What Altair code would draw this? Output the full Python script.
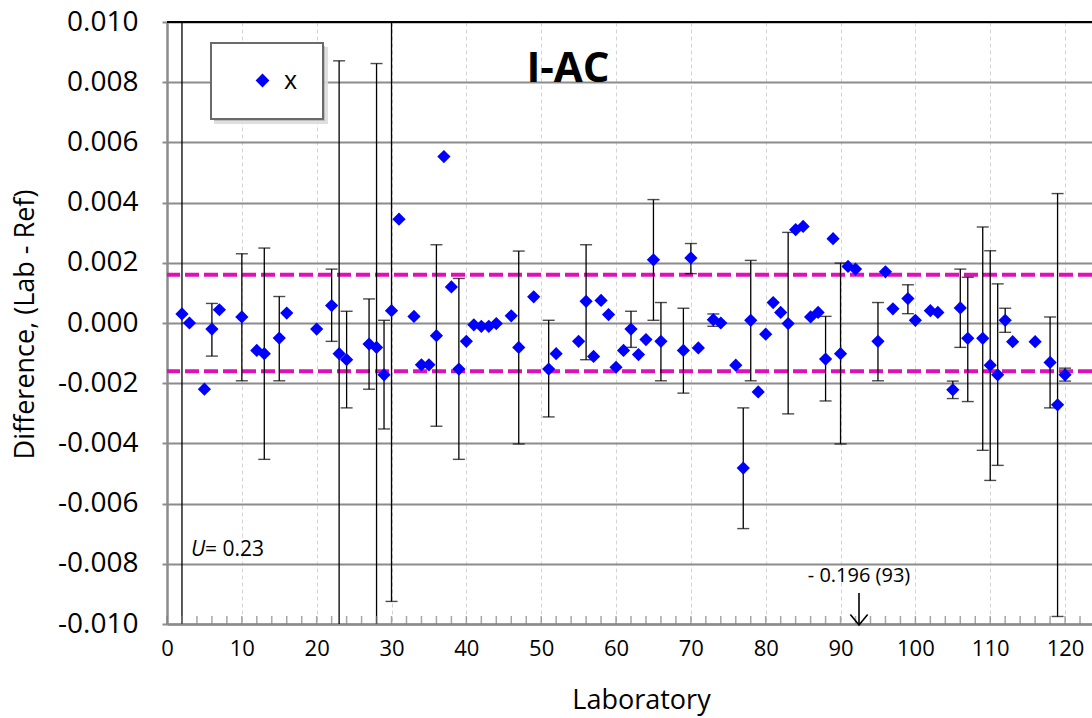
import altair as alt
import pandas as pd

# ---- data ----
labs = [2, 3, 5, 6, 7, 10, 12, 13, 15, 16,
        20, 22, 23, 24, 27, 28, 29, 30, 31, 33,
        34, 35, 36, 37, 38, 39, 40, 41, 42, 43,
        44, 46, 47, 49, 51, 52, 55, 56, 57, 58,
        59, 60, 61, 62, 63, 64, 65, 66, 69, 70,
        71, 73, 74, 76, 77, 78, 79, 80, 81, 82,
        83, 84, 85, 86, 87, 88, 89, 90, 91, 92,
        95, 96, 97, 99, 100, 102, 103, 105, 106, 107,
        109, 110, 111, 112, 113, 116, 118, 119, 120]

diffs = [0.00030, 0.00000, -0.00220, -0.00020, 0.00044, 0.00020, -0.00091, -0.00102, -0.00050, 0.00033,
         -0.00020, 0.00058, -0.00102, -0.00122, -0.00070, -0.00081, -0.00172, 0.00041, 0.00345, 0.00022,
         -0.00139, -0.00139, -0.00042, 0.00553, 0.00120, -0.00153, -0.00061, -0.00006, -0.00011, -0.00011,
         -0.00002, 0.00024, -0.00081, 0.00087, -0.00153, -0.00102, -0.00061, 0.00072, -0.00111, 0.00075,
         0.00028, -0.00147, -0.00091, -0.00020, -0.00105, -0.00055, 0.00210, -0.00061, -0.00091, 0.00216,
         -0.00083, 0.00011, 0.00000, -0.00140, -0.00482, 0.00009, -0.00229, -0.00037, 0.00068, 0.00035,
         -0.00002, 0.00310, 0.00321, 0.00020, 0.00035, -0.00120, 0.00280, -0.00102, 0.00188, 0.00179,
         -0.00061, 0.00170, 0.00047, 0.00081, 0.00009, 0.00041, 0.00035, -0.00222, 0.00050, -0.00051,
         -0.00051, -0.00140, -0.00172, 0.00009, -0.00062, -0.00062, -0.00131, -0.00272, -0.00172]

err_labs = [2, 6, 10, 13, 15, 22, 23, 24, 27, 28,
            29, 30, 36, 39, 47, 51, 56, 62, 65, 66,
            69, 70, 73, 77, 78, 83, 88, 90, 95, 99,
            105, 106, 107, 109, 110, 111, 112, 118, 119, 120]
err_hi = [0.0120, 0.00065, 0.00230, 0.00249, 0.00088, 0.00179, 0.00871, 0.00039, 0.00080, 0.00862,
          0.00009, 0.0120, 0.00260, 0.00148, 0.00239, 0.00009, 0.00260, 0.00039, 0.00410, 0.00068,
          0.00049, 0.00264, 0.00030, -0.00282, 0.00208, 0.00301, 0.00022, 0.00199, 0.00068, 0.00127,
          -0.00193, 0.00179, 0.00152, 0.00319, 0.00240, 0.00130, 0.00049, 0.00020, 0.00430, -0.00150]
err_lo = [-0.0120, -0.00110, -0.00192, -0.00453, -0.00192, -0.00061, -0.0120, -0.00282, -0.00220, -0.0120,
          -0.00352, -0.00925, -0.00343, -0.00453, -0.00402, -0.00312, -0.00122, -0.00081, 0.00009, -0.00192,
          -0.00233, 0.00164, -0.00011, -0.00683, -0.00192, -0.00302, -0.00259, -0.00402, -0.00192, 0.00031,
          -0.00251, -0.00081, -0.00261, -0.00423, -0.00523, -0.00473, -0.00031, -0.00282, -0.00975, -0.00193]

ref_limits = [0.0016, -0.0016]
x_ticks = [0, 10, 20, 30, 40, 50, 60, 70, 80, 90, 100, 110, 120]
x_minor = list(range(0, 124, 2))
y_ticks = [-0.010, -0.008, -0.006, -0.004, -0.002, 0.0, 0.002, 0.004, 0.006, 0.008, 0.010]
series_name = ["x"]
u_text = ["= 0.23"]
outlier_text = ["- 0.196 (93)"]
title_text = ["I-AC"]

# ---- frames ----
pts = pd.DataFrame({"lab": labs, "diff": diffs, "series": series_name[0]})
err = pd.DataFrame({"lab": err_labs, "hi": err_hi, "lo": err_lo})
caps = pd.concat([
    pd.DataFrame({"lab": err_labs, "v": err_hi}),
    pd.DataFrame({"lab": err_labs, "v": err_lo}),
])
caps = caps[caps["v"].abs() <= 0.01001]
refs = pd.DataFrame({"v": ref_limits})
minor = pd.DataFrame({"t": x_minor})
one = pd.DataFrame({"a": [0]})

W, H = 925, 602
FONT = "Open Sans"
GRAY = "#8c8c8c"

xscale = alt.Scale(domain=[0, 123.6], nice=False, zero=False)
yscale = alt.Scale(domain=[-0.010, 0.010], nice=False, zero=False)

xa = alt.Axis(values=x_ticks, format="d", title="Laboratory",
              labelFont=FONT, labelFontSize=22, labelColor="black", labelPadding=14,
              labelFlush=False, tickSize=0,
              domainColor=GRAY, domainWidth=2.5,
              grid=True, gridColor="#d4d4d4", gridDash=[4, 3], gridWidth=1,
              titleFont=FONT, titleFontSize=27, titleFontWeight="normal", titleColor="black",
              titleX=474, titleY=84, titleBaseline="alphabetic", titleAlign="center")
ya = alt.Axis(values=y_ticks,
              labelExpr="(datum.value < -1e-9 ? '-' : '') + format(abs(datum.value), '.3f')",
              labelFont=FONT, labelFontSize=28, labelColor="black", labelPadding=24,
              labelFlush=False, tickSize=5, tickColor=GRAY, tickWidth=2,
              domainColor=GRAY, domainWidth=2.5,
              grid=True, gridColor=GRAY, gridWidth=2,
              title="Difference, (Lab - Ref)",
              titleFont=FONT, titleFontSize=27, titleFontWeight="normal", titleColor="black",
              titleX=-142, titleY=302, titleAngle=-90, titleAlign="center", titleBaseline="middle")

X = lambda f: alt.X(f, scale=xscale, axis=xa)
Y = lambda f: alt.Y(f, scale=yscale, axis=ya)

shadow1 = alt.Chart(one).mark_rect(color="#dcdcdc", opacity=0.9).encode(
    x=alt.value(47), x2=alt.value(161), y=alt.value(25), y2=alt.value(102))
shadow2 = alt.Chart(one).mark_rect(color="#b8b8b8", opacity=0.9).encode(
    x=alt.value(47), x2=alt.value(158), y=alt.value(24), y2=alt.value(99))

refl = alt.Chart(refs).mark_rule(color="#E010B8", strokeWidth=4, strokeDash=[14, 5]).encode(
    y=Y("v:Q"))

whisk = alt.Chart(err).mark_rule(color="black", strokeWidth=1.3, clip=True).encode(
    x=X("lab:Q"), y=Y("lo:Q"), y2="hi:Q")

capm = alt.Chart(caps).mark_tick(orient="horizontal", size=12, thickness=1.4,
                                 color="black", clip=True).encode(
    x=X("lab:Q"), y=Y("v:Q"))

minor_t = alt.Chart(minor).mark_tick(orient="vertical", size=8, thickness=1.5, color="#808080").encode(
    x=X("t:Q"), y=alt.value(H - 4))

points = alt.Chart(pts).mark_point(shape="diamond", filled=True, size=175, opacity=1,
                                   strokeWidth=0).encode(
    x=X("lab:Q"), y=Y("diff:Q"),
    color=alt.Color("series:N",
                    scale=alt.Scale(domain=series_name, range=["#0000FF"]),
                    legend=alt.Legend(title=None, orient="none", legendX=44, legendY=21,
                                      padding=25, fillColor="white", strokeColor="#6a6a6a",
                                      symbolType="diamond", symbolSize=190, symbolOffset=14,
                                      symbolStrokeWidth=0,
                                      labelFont=FONT, labelFontSize=25, labelOffset=9,
                                      labelColor="black")))

top_line = alt.Chart(one).mark_rule(color="black", strokeWidth=2).encode(
    x=alt.value(0), x2=alt.value(W), y=alt.value(0))

title = alt.Chart(one).mark_text(text=title_text[0], font=FONT, fontSize=42, fontWeight="bold",
                                 align="center", baseline="alphabetic", color="black").encode(
    x=alt.value(401), y=alt.value(60))

u_it = alt.Chart(one).mark_text(text="U", font=FONT, fontSize=21, fontStyle="italic",
                                align="left", baseline="alphabetic", color="black").encode(
    x=alt.value(24), y=alt.value(534))
u_val = alt.Chart(one).mark_text(text=u_text[0], font=FONT, fontSize=21,
                                 align="left", baseline="alphabetic", color="black").encode(
    x=alt.value(38), y=alt.value(534))

out_txt = alt.Chart(one).mark_text(text=outlier_text[0], font=FONT, fontSize=20,
                                   align="center", baseline="alphabetic", color="black").encode(
    x=alt.value(692), y=alt.value(560))
arrow_line = alt.Chart(one).mark_rule(color="black", strokeWidth=1.6).encode(
    x=alt.value(692), y=alt.value(571), y2=alt.value(603))
arrow_head = alt.Chart(one).mark_point(shape="M-1,-1.2L0,0L1,-1.2", filled=False,
                                       color="black", strokeWidth=1.6, size=300, opacity=1).encode(
    x=alt.value(692), y=alt.value(603))

chart = alt.layer(
    shadow1, shadow2, refl, whisk, capm, minor_t, points, top_line, title, u_it, u_val,
    out_txt, arrow_line, arrow_head
).properties(
    width=W, height=H,
    autosize=alt.AutoSizeParams(type="none"),
    padding={"left": 167, "top": 22, "right": 0, "bottom": 94},
    background="white",
).configure_view(stroke=None).configure_legend(strokeWidth=2)

chart.save("out.html", embed_options={"renderer": "svg", "actions": False})
